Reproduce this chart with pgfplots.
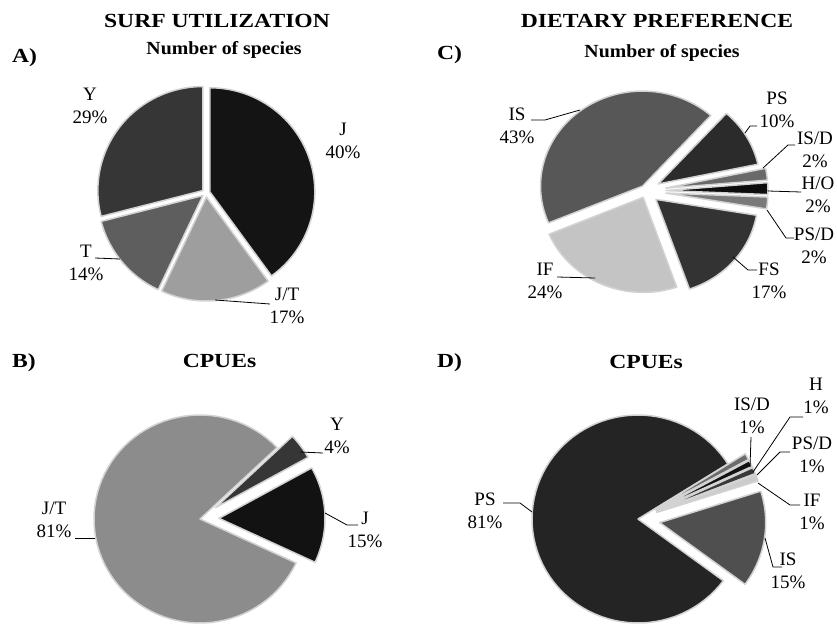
\documentclass[border=0pt]{standalone}
\usepackage{graphicx}
\usepackage{pgfplots}
\pgfplotsset{compat=1.18}
\usepackage{fontspec}
\setmainfont{Liberation Serif}

\definecolor{bd}{HTML}{D2D2D2}
\tikzset{lbl/.style={align=center, inner sep=0pt, font=\fontsize{19}{23}\selectfont}}

\newcommand\ttl[1]{\scalebox{1.18}[1]{\fontsize{20}{24}\selectfont\bfseries #1}}
\newcommand\sub[1]{\scalebox{1.07}[1]{\fontsize{18.5}{22}\selectfont\bfseries #1}}

% pie: centre x, centre y, radius x, radius y, angle where the first slice starts
\newcommand\pie[5]{\xdef\pcx{#1}\xdef\pcy{#2}\xdef\prx{#3}\xdef\pry{#4}\xdef\curang{#5}}
% slice: percentage, explosion, fill colour (slices run clockwise)
\newcommand\slice[3]{%
  \pgfmathsetmacro\sa{\curang}%
  \pgfmathsetmacro\ea{\curang-3.6*#1}%
  \pgfmathsetmacro\ma{\curang-1.8*#1}%
  \pgfmathsetmacro\ax{\pcx+#2*cos(\ma)}%
  \pgfmathsetmacro\ay{\pcy-#2*sin(\ma)}%
  \edef\tmp{\noexpand\addplot[fill=#3, draw=bd, line width=1.5pt, line join=round,
    domain=\ea:\sa, samples=80, variable=\noexpand\t]
    ({\ax+\prx*cos(\noexpand\t)},{\ay-\pry*sin(\noexpand\t)}) -- (axis cs:\ax,\ay) -- cycle;}%
  \tmp
  \xdef\curang{\ea}%
}
\newcommand\lead[1]{\addplot[black, line width=0.8pt] coordinates {#1};}

\begin{document}
\begin{tikzpicture}
\begin{scope}
\clip (0,0) rectangle (837pt,628pt);
\begin{axis}[at={(0,0)}, anchor=south west, x=1pt, y=1pt,
  xmin=0, xmax=837, ymin=0, ymax=628, y dir=reverse,
  enlargelimits=false, hide axis, clip=false]

% ---------- A) surf utilization, number of species
\pie{206}{193}{105}{104}{90}
\slice{40}{4}{black!92}   % J
\slice{17}{4}{black!38}   % J/T
\slice{14}{4}{black!63}   % T
\slice{29}{4}{black!79}   % Y

% ---------- B) surf utilization, CPUEs
\pie{200}{519}{106}{104}{29}
\slice{15}{19}{black!93}  % J
\slice{81}{0}{black!45}   % J/T
\slice{4}{19}{black!79}   % Y

% ---------- C) dietary preference, number of species
\pie{646}{191}{102}{95}{48}
\slice{10}{14}{black!83}  % PS
\slice{2}{20}{black!59}   % IS/D
\slice{2}{20}{black!95}   % H/O
\slice{2}{20}{black!52}   % PS/D
\slice{17}{13}{black!80}  % FS
\slice{24}{7}{black!23}   % IF
\slice{43}{6}{black!66}   % IS

% ---------- D) dietary preference, CPUEs
\pie{638}{519}{106}{104}{-36.4}
\slice{81}{0}{black!86}   % PS
\slice{1}{20}{black!58}   % IS/D
\slice{1}{20}{black!93}   % H
\slice{1}{20}{black!78}   % PS/D
\slice{1}{20}{black!20}   % IF
\slice{15}{22}{black!69}  % IS

% ---------- leader lines
\lead{(95,258) (120,259)}
\lead{(215,300) (270,304)}
\lead{(300,452) (323,453)}
\lead{(325,513) (347,525) (358,525)}
\lead{(75,538) (95,538)}
\lead{(531,120) (545,120) (580,110)}
\lead{(745,133) (750,126) (757,126)}
\lead{(763,168) (788,145) (795,145)}
\lead{(768,191) (801,192)}
\lead{(767,210) (786,238) (794,238)}
\lead{(733,257) (748,270) (757,270)}
\lead{(557,277) (595,278)}
\lead{(751,437) (750,467)}
\lead{(753,472) (790,417) (803,417)}
\lead{(757,475) (780,452) (790,452)}
\lead{(758,483) (790,505) (800,505)}
\lead{(765,538) (773,567) (782,567)}
\lead{(503,503) (520,503) (532,512)}

% ---------- titles
\node[anchor=base, inner sep=0pt] at (axis cs:217,27.5) {\ttl{SURF UTILIZATION}};
\node[anchor=base, inner sep=0pt] at (axis cs:657,27.5) {\ttl{DIETARY PREFERENCE}};
\node[anchor=base west, inner sep=0pt] at (axis cs:12,63) {\ttl{A)}};
\node[anchor=base west, inner sep=0pt] at (axis cs:437,60) {\ttl{C)}};
\node[anchor=base west, inner sep=0pt] at (axis cs:12,367) {\ttl{B)}};
\node[anchor=base west, inner sep=0pt] at (axis cs:437,367) {\ttl{D)}};
\node[anchor=base, inner sep=0pt] at (axis cs:224,55) {\sub{Number of species}};
\node[anchor=base, inner sep=0pt] at (axis cs:662,58) {\sub{Number of species}};
\node[anchor=base, inner sep=0pt] at (axis cs:219.5,367) {\ttl{CPUEs}};
\node[anchor=base, inner sep=0pt] at (axis cs:646,368) {\ttl{CPUEs}};

% ---------- slice labels
\node[lbl] at (axis cs:343,141) {J\\40\%};
\node[lbl] at (axis cs:90,106) {Y\\29\%};
\node[lbl] at (axis cs:86,263) {T\\14\%};
\node[lbl] at (axis cs:287,306) {J/T\\17\%};

\node[lbl] at (axis cs:337,436) {Y\\4\%};
\node[lbl] at (axis cs:365,530) {J\\15\%};
\node[lbl] at (axis cs:54,520) {J/T\\81\%};

\node[lbl] at (axis cs:517,126) {IS\\43\%};
\node[lbl] at (axis cs:777,110) {PS\\10\%};
\node[lbl] at (axis cs:815,150) {IS/D\\2\%};
\node[lbl] at (axis cs:818,195) {H/O\\2\%};
\node[lbl] at (axis cs:814,246) {PS/D\\2\%};
\node[lbl] at (axis cs:769,281) {FS\\17\%};
\node[lbl] at (axis cs:545,281) {IF\\24\%};

\node[lbl] at (axis cs:752,416) {IS/D\\1\%};
\node[lbl] at (axis cs:816,396) {H\\1\%};
\node[lbl] at (axis cs:812,455) {PS/D\\1\%};
\node[lbl] at (axis cs:812,512) {IF\\1\%};
\node[lbl] at (axis cs:788,571) {IS\\15\%};
\node[lbl] at (axis cs:485,511) {PS\\81\%};
\end{axis}
\end{scope}
\pgfresetboundingbox
\useasboundingbox (0,0) rectangle (837pt,628pt);
\end{tikzpicture}
\end{document}
